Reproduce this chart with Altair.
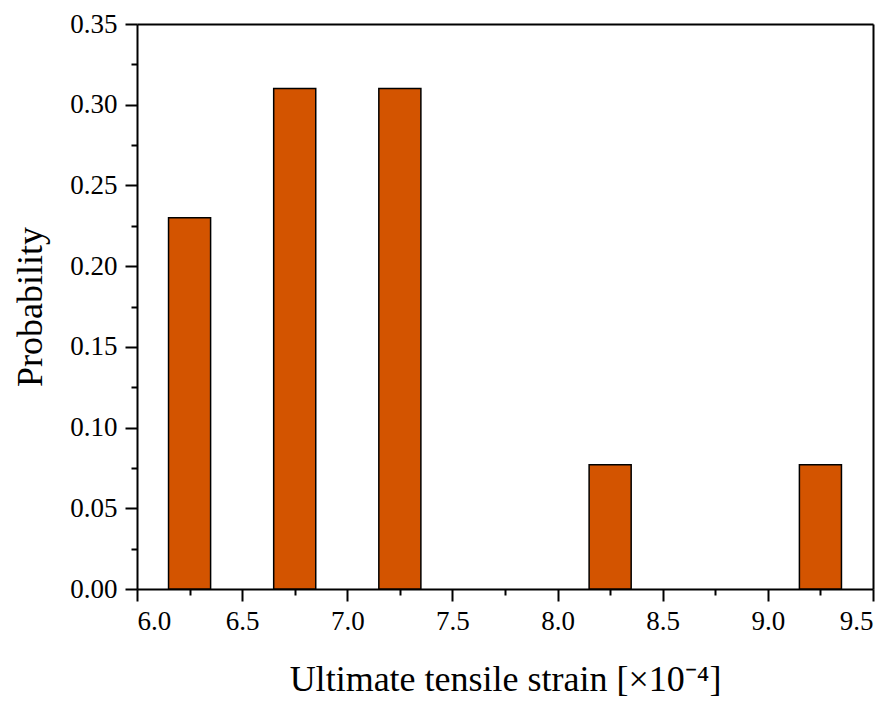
import altair as alt
import pandas as pd

bin_start = [6.15, 6.65, 7.15, 8.15, 9.15]
bin_end = [6.35, 6.85, 7.35, 8.35, 9.35]
probability = [0.23, 0.31, 0.31, 0.077, 0.077]

x_major = [6.0, 6.5, 7.0, 7.5, 8.0, 8.5, 9.0, 9.5]
x_minor = [6.25, 6.75, 7.25, 7.75, 8.25, 8.75, 9.25]
y_major = [0.0, 0.05, 0.10, 0.15, 0.20, 0.25, 0.30, 0.35]
y_minor = [0.025, 0.075, 0.125, 0.175, 0.225, 0.275, 0.325]

df = pd.DataFrame({"start": bin_start, "end": bin_end, "p": probability})

FONT = "Liberation Serif"
xscale = alt.Scale(domain=[6.0, 9.5], nice=False, zero=False)
yscale = alt.Scale(domain=[0, 0.35], nice=False, zero=True)

common_axis = dict(domainColor="black", domainWidth=2, tickColor="black", tickWidth=2,
                   labelFont=FONT, labelColor="black", labelFontSize=27,
                   titleFont=FONT, titleColor="black", titleFontWeight="normal",
                   titleFontSize=36, grid=False)

bars = alt.Chart(df).mark_bar(color="#D35400", stroke="black", strokeWidth=1.5).encode(
    x=alt.X("start:Q", scale=xscale,
            axis=alt.Axis(values=x_major, format=".1f", orient="bottom", tickSize=12,
                          labelPadding=7, title="Ultimate tensile strain [×10⁻⁴]",
                          titlePadding=28, **common_axis)),
    x2="end:Q",
    y=alt.Y("p:Q", scale=yscale,
            axis=alt.Axis(values=y_major, format=".2f", orient="left", tickSize=12,
                          labelPadding=8, title="Probability", titlePadding=20,
                          **common_axis)),
    y2=alt.datum(0),
)

minor = alt.Chart(df).mark_point(opacity=0).encode(
    x=alt.X("start:Q", scale=xscale,
            axis=alt.Axis(values=x_minor, orient="bottom", tickSize=6, labels=False,
                          domain=False, title=None, grid=False, tickColor="black", tickWidth=2)),
    y=alt.Y("p:Q", scale=yscale,
            axis=alt.Axis(values=y_minor, orient="left", tickSize=6, labels=False,
                          domain=False, title=None, grid=False, tickColor="black", tickWidth=2)),
)

frame = alt.Chart(df).mark_point(opacity=0).encode(
    x=alt.X("start:Q", scale=xscale,
            axis=alt.Axis(orient="top", ticks=False, labels=False, title=None, grid=False,
                          domain=True, domainColor="black", domainWidth=2)),
    y=alt.Y("p:Q", scale=yscale,
            axis=alt.Axis(orient="right", ticks=False, labels=False, title=None, grid=False,
                          domain=True, domainColor="black", domainWidth=2)),
)

chart = alt.layer(bars, minor, frame).resolve_axis(x="independent", y="independent").properties(
    width=736, height=565,
    autosize=alt.AutoSizeParams(type="none"),
    padding={"left": 129, "top": 16, "right": 14, "bottom": 112},
).configure_view(strokeWidth=0).configure(background="white")

chart.save("out.html", embed_options={"renderer": "svg", "actions": False})
